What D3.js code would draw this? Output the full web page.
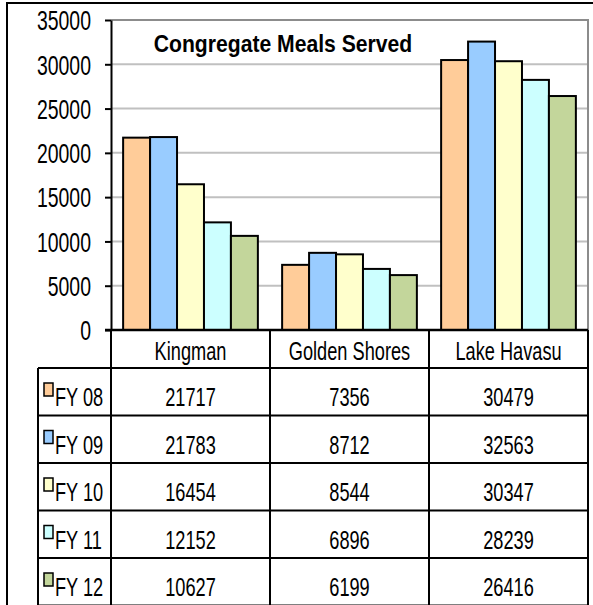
<!DOCTYPE html>
<html>
<head>
<meta charset="utf-8">
<script src="https://cdn.jsdelivr.net/npm/d3@7"></script>
<style>
  body { margin: 0; background: #fff; }
  text { font-family: "Liberation Sans", Arial, sans-serif; fill: #000; }
</style>
</head>
<body>
<svg width="593" height="605"></svg>
<script>
// data
const categories = ["Kingman", "Golden Shores", "Lake Havasu"];
const seriesNames = ["FY 08", "FY 09", "FY 10", "FY 11", "FY 12"];
const fy08 = [21717, 7356, 30479];
const fy09 = [21783, 8712, 32563];
const fy10 = [16454, 8544, 30347];
const fy11 = [12152, 6896, 28239];
const fy12 = [10627, 6199, 26416];
const yTicks = [0, 5000, 10000, 15000, 20000, 25000, 30000, 35000];
const colors = ["#ffcc99", "#99ccff", "#ffffcc", "#ccffff", "#c3d69b"];

const seriesValues = [fy08, fy09, fy10, fy11, fy12];

const svg = d3.select("svg");
const width = +svg.attr("width");
const height = +svg.attr("height");

// plot area
const plotLeft = 111, plotRight = 588, plotTop = 20, plotBottom = 330;
const rowH = 47.5, headH = 38;

const x = d3.scaleBand().domain(categories).range([plotLeft, plotRight]);
const xInner = d3.scaleBand().domain(seriesNames).range([0, x.bandwidth()]).paddingOuter(0.45);
const y = d3.scaleLinear().domain([0, 35000]).range([plotBottom, plotTop]);

// outer frame (top + left only, the rest is cut off)
svg.append("path")
  .attr("d", `M7,${height} V3 H${width}`)
  .attr("fill", "none").attr("stroke", "#000").attr("stroke-width", 2);

// gridlines
svg.append("g").selectAll("line")
  .data(yTicks.filter(d => d > 0 && d < 35000))
  .enter().append("line")
    .attr("x1", plotLeft).attr("x2", plotRight)
    .attr("y1", d => y(d)).attr("y2", d => y(d))
    .attr("stroke", "#c0c0c0").attr("stroke-width", 2);

// plot border (top + right)
svg.append("path")
  .attr("d", `M${plotLeft},${y(35000)} H${plotRight} V${plotBottom}`)
  .attr("fill", "none").attr("stroke", "#8c8c8c").attr("stroke-width", 2);

// bars
const groups = svg.append("g").selectAll("g")
  .data(seriesNames)
  .enter().append("g")
    .attr("fill", (d, i) => colors[i]);

groups.selectAll("rect")
  .data((s, i) => seriesValues[i].map((v, j) => ({ s: s, cat: categories[j], v: v })))
  .enter().append("rect")
    .attr("x", d => x(d.cat) + xInner(d.s))
    .attr("y", d => y(d.v))
    .attr("width", xInner.bandwidth())
    .attr("height", d => y(0) - y(d.v))
    .attr("stroke", "#000").attr("stroke-width", 2);

// y axis
const yAxis = svg.append("g")
  .attr("transform", `translate(${plotLeft},0)`)
  .call(d3.axisLeft(y).tickValues(yTicks).tickFormat(d3.format("d")).tickSize(6).tickSizeOuter(0));
yAxis.select(".domain").attr("stroke", "#000").attr("stroke-width", 2);
yAxis.selectAll(".tick line").attr("stroke", "#000").attr("stroke-width", 2);
yAxis.selectAll(".tick text")
  .attr("font-family", "Liberation Sans, Arial, sans-serif")
  .attr("font-size", 27)
  .attr("x", -20 / 0.72)
  .attr("dy", "0.36em")
  .attr("transform", "scale(0.72,1)");

// zero line
svg.append("line")
  .attr("x1", plotLeft - 6).attr("x2", plotRight)
  .attr("y1", plotBottom).attr("y2", plotBottom)
  .attr("stroke", "#000").attr("stroke-width", 2.5);

// title
svg.append("text")
  .attr("transform", "translate(283,52) scale(0.92,1)")
  .attr("text-anchor", "middle")
  .attr("font-size", 23)
  .attr("font-weight", "bold")
  .text("Congregate Meals Served");

// data table
const table = svg.append("g");
const tableTop = plotBottom + headH;
const tableLeft = 38;
const tableBottom = tableTop + rowH * seriesNames.length;

// vertical lines
table.selectAll(".vline")
  .data(categories.map(c => x(c)).concat([plotRight]))
  .enter().append("line")
    .attr("x1", d => d).attr("x2", d => d)
    .attr("y1", plotBottom).attr("y2", tableBottom)
    .attr("stroke", "#000").attr("stroke-width", 2);
table.append("line")
  .attr("x1", tableLeft).attr("x2", tableLeft)
  .attr("y1", tableTop).attr("y2", tableBottom)
  .attr("stroke", "#000").attr("stroke-width", 2);

// horizontal lines
table.selectAll(".hline")
  .data(d3.range(seriesNames.length + 1))
  .enter().append("line")
    .attr("x1", tableLeft).attr("x2", plotRight)
    .attr("y1", i => tableTop + i * rowH).attr("y2", i => tableTop + i * rowH)
    .attr("stroke", "#000").attr("stroke-width", 2);

// category labels
table.selectAll(".cat")
  .data(categories)
  .enter().append("text")
    .attr("transform", d => `translate(${x(d) + x.bandwidth() / 2},360) scale(0.7,1)`)
    .attr("text-anchor", "middle")
    .attr("font-size", 26)
    .text(d => d);

// rows
const rows = table.selectAll(".row")
  .data(seriesNames)
  .enter().append("g")
    .attr("transform", (d, i) => `translate(0,${tableTop + i * rowH})`);

rows.append("rect")
  .attr("x", 44).attr("y", 15)
  .attr("width", 9).attr("height", 13)
  .attr("fill", (d, i) => colors[i])
  .attr("stroke", "#000").attr("stroke-width", 1.5);

rows.append("text")
  .attr("transform", "translate(55,38) scale(0.7,1)")
  .attr("font-size", 26)
  .text(d => d);

rows.selectAll(".val")
  .data((s, i) => seriesValues[i].map((v, j) => ({ cat: categories[j], v: v })))
  .enter().append("text")
    .attr("transform", d => `translate(${x(d.cat) + x.bandwidth() / 2},38) scale(0.7,1)`)
    .attr("text-anchor", "middle")
    .attr("font-size", 26)
    .text(d => d.v);
</script>
</body>
</html>
